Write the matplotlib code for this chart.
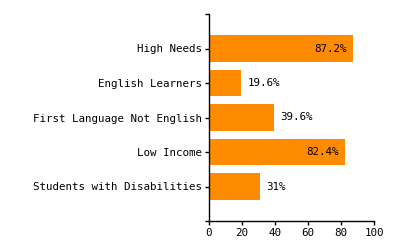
import matplotlib
matplotlib.use("Agg")
import matplotlib.pyplot as plt

categories = ["High Needs", "English Learners", "First Language Not English",
              "Low Income", "Students with Disabilities"]
values = [87.2, 19.6, 39.6, 82.4, 31]
labels = ["87.2%", "19.6%", "39.6%", "82.4%", "31%"]

plt.rcParams['font.family'] = ['DejaVu Sans Mono']

fig = plt.figure(figsize=(4, 2.5), dpi=100)
ax = fig.add_axes([0.5225, 0.116, 0.4125, 0.828])

pos = list(range(len(categories), 0, -1))
ax.barh(pos, values, height=0.78, color="#ff8c00")

for p, v, lab in zip(pos, values, labels):
    if v > 70:
        ax.annotate(lab, (v, p), xytext=(-4.5, 0), textcoords="offset points",
                    ha="right", va="center", fontsize=7.8)
    else:
        ax.annotate(lab, (v, p), xytext=(4.5, 0), textcoords="offset points",
                    ha="left", va="center", fontsize=7.8)

ax.set_xlim(0, 100)
ax.set_ylim(0, len(categories) + 1)
ax.set_xticks([0, 20, 40, 60, 80, 100])
ax.set_yticks(pos)
ax.set_yticklabels(categories)
ax.set_yticks([0, len(categories) + 1], minor=True)
ax.tick_params(axis="both", which="both", length=3, width=1, labelsize=7.8, pad=2)

for s in ["top", "right"]:
    ax.spines[s].set_visible(False)
for s in ["left", "bottom"]:
    ax.spines[s].set_linewidth(1)

fig.savefig("out.png", dpi=100)
